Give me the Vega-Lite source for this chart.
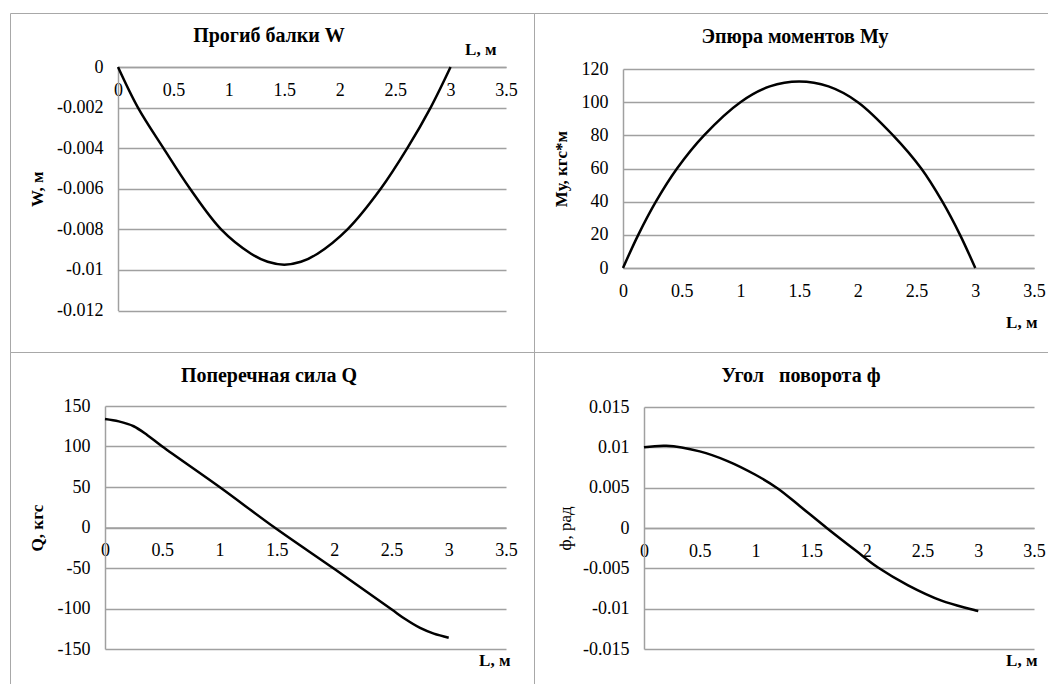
{
  "$schema": "https://vega.github.io/schema/vega-lite/v6.json",
  "autosize": {"type": "pad"},
  "padding": {"left": 9, "top": 12, "right": 0, "bottom": 0},
  "background": "white",
  "bounds": "flush",
  "spacing": 0,
  "columns": 2,
  "config": {
    "view": {"stroke": "#a8a8a8", "strokeWidth": 1},
    "font": "Liberation Serif",
    "axis": {
      "labelFont": "Liberation Serif", "labelFontSize": 18, "labelColor": "black",
      "titleFont": "Liberation Serif", "titleFontSize": 17, "titleColor": "black", "titleFontWeight": "bold",
      "domainColor": "#a0a0a0", "domainWidth": 1.5, "gridColor": "#a0a0a0", "gridWidth": 1.5,
      "ticks": false, "tickSize": 0, "labelFlush": false, "labelOverlap": false,
      "labelExpr": "'' + datum.value"
    },
    "axisX": {"grid": false, "labelPadding": 14, "titleAlign": "right", "titleBaseline": "alphabetic", "titleAngle": 0},
    "axisY": {"grid": true, "labelPadding": 15, "titleBaseline": "middle", "titleAngle": 270},
    "title": {"font": "Liberation Serif", "fontSize": 20, "fontWeight": "bold", "color": "black", "frame": "group", "anchor": "middle"},
    "line": {"color": "black", "strokeWidth": 2.5, "interpolate": "catmull-rom"}
  },
  "datasets": {
    "W": [
      {"L": 0, "W": 0}, {"L": 0.18, "W": -0.002}, {"L": 0.41, "W": -0.004}, {"L": 0.65, "W": -0.006},
      {"L": 0.93, "W": -0.008}, {"L": 1.2, "W": -0.0092}, {"L": 1.35, "W": -0.0096}, {"L": 1.5, "W": -0.00974},
      {"L": 1.65, "W": -0.0096}, {"L": 1.8, "W": -0.0092},
      {"L": 2.07, "W": -0.008}, {"L": 2.37, "W": -0.006}, {"L": 2.61, "W": -0.004}, {"L": 2.82, "W": -0.002},
      {"L": 3.0, "W": 0}
    ],
    "M": [
      {"L": 0, "My": 0}, {"L": 0.13, "My": 20}, {"L": 0.28, "My": 40}, {"L": 0.46, "My": 60},
      {"L": 0.69, "My": 80}, {"L": 1.0, "My": 100}, {"L": 1.25, "My": 109.5}, {"L": 1.5, "My": 112.5},
      {"L": 1.75, "My": 109.5}, {"L": 2.0, "My": 100}, {"L": 2.3, "My": 80}, {"L": 2.54, "My": 60},
      {"L": 2.72, "My": 40}, {"L": 2.87, "My": 20}, {"L": 3.0, "My": 0}
    ],
    "Q": [
      {"L": 0, "Q": 134}, {"L": 0.12, "Q": 131}, {"L": 0.25, "Q": 125}, {"L": 0.37, "Q": 114},
      {"L": 0.5, "Q": 100}, {"L": 1.0, "Q": 50}, {"L": 1.48, "Q": 0}, {"L": 2.0, "Q": -51},
      {"L": 2.5, "Q": -101}, {"L": 2.62, "Q": -113}, {"L": 2.75, "Q": -124}, {"L": 2.87, "Q": -131},
      {"L": 3.0, "Q": -136}
    ],
    "phi": [
      {"L": 0, "phi": 0.01}, {"L": 0.2, "phi": 0.0102}, {"L": 0.5, "phi": 0.0095}, {"L": 0.75, "phi": 0.0083},
      {"L": 1.0, "phi": 0.0066}, {"L": 1.2, "phi": 0.0049}, {"L": 1.4, "phi": 0.0027}, {"L": 1.64, "phi": 0},
      {"L": 1.9, "phi": -0.0028}, {"L": 2.1, "phi": -0.0049}, {"L": 2.37, "phi": -0.0071}, {"L": 2.67, "phi": -0.009},
      {"L": 3.0, "phi": -0.0103}
    ]
  },
  "concat": [
    {
      "width": 524, "height": 339,
      "title": {"text": "Прогиб балки W", "offset": -33, "dx": -3},
      "data": {"name": "W"},
      "mark": {"type": "line"},
      "encoding": {
        "x": {"field": "L", "type": "quantitative",
          "scale": {"domain": [0, 3.5], "range": [108, 496], "nice": false, "zero": false},
          "axis": {"values": [0, 0.5, 1, 1.5, 2, 2.5, 3, 3.5], "offset": -285, "title": "L, м", "titleX": 486, "titleY": -13}},
        "y": {"field": "W", "type": "quantitative",
          "scale": {"domain": [-0.012, 0], "range": [297.5, 54], "nice": false, "zero": false},
          "axis": {"values": [0, -0.002, -0.004, -0.006, -0.008, -0.01, -0.012], "offset": -108, "title": "W, м", "titleX": -81}}
      }
    },
    {
      "width": 514, "height": 339,
      "title": {"text": "Эпюра моментов Му", "offset": -34, "dx": 4},
      "data": {"name": "M"},
      "mark": {"type": "line"},
      "encoding": {
        "x": {"field": "L", "type": "quantitative",
          "scale": {"domain": [0, 3.5], "range": [89, 500], "nice": false, "zero": false},
          "axis": {"values": [0, 0.5, 1, 1.5, 2, 2.5, 3, 3.5], "offset": -84, "title": "L, м", "titleX": 503, "titleY": 59}},
        "y": {"field": "My", "type": "quantitative",
          "scale": {"domain": [0, 120], "range": [255, 56], "nice": false, "zero": false},
          "axis": {"values": [0, 20, 40, 60, 80, 100, 120], "offset": -89, "title": "Му, кгс*м", "titleX": -62}}
      }
    },
    {
      "width": 524, "height": 332,
      "title": {"text": "Поперечная сила Q", "offset": -34, "dx": -3},
      "data": {"name": "Q"},
      "mark": {"type": "line"},
      "encoding": {
        "x": {"field": "L", "type": "quantitative",
          "scale": {"domain": [0, 3.5], "range": [95, 496], "nice": false, "zero": false},
          "axis": {"values": [0, 0.5, 1, 1.5, 2, 2.5, 3, 3.5], "offset": -156.5, "title": "L, м", "titleX": 500, "titleY": 137.5}},
        "y": {"field": "Q", "type": "quantitative",
          "scale": {"domain": [-150, 150], "range": [297, 54], "nice": false, "zero": false},
          "axis": {"values": [150, 100, 50, 0, -50, -100, -150], "offset": -95, "title": "Q, кгс", "titleX": -68}}
      }
    },
    {
      "width": 514, "height": 332,
      "title": {"text": "Угол\u00a0\u00a0\u00a0поворота ф", "offset": -34, "dx": 10},
      "data": {"name": "phi"},
      "mark": {"type": "line"},
      "encoding": {
        "x": {"field": "L", "type": "quantitative",
          "scale": {"domain": [0, 3.5], "range": [110, 500], "nice": false, "zero": false},
          "axis": {"values": [0, 0.5, 1, 1.5, 2, 2.5, 3, 3.5], "offset": -156, "title": "L, м", "titleX": 503, "titleY": 137.5}},
        "y": {"field": "phi", "type": "quantitative",
          "scale": {"domain": [-0.015, 0.015], "range": [297, 55], "nice": false, "zero": false},
          "axis": {"values": [0.015, 0.01, 0.005, 0, -0.005, -0.01, -0.015], "offset": -110, "title": "ф, рад", "titleX": -79, "titleFontWeight": "normal"}}
      }
    }
  ]
}
